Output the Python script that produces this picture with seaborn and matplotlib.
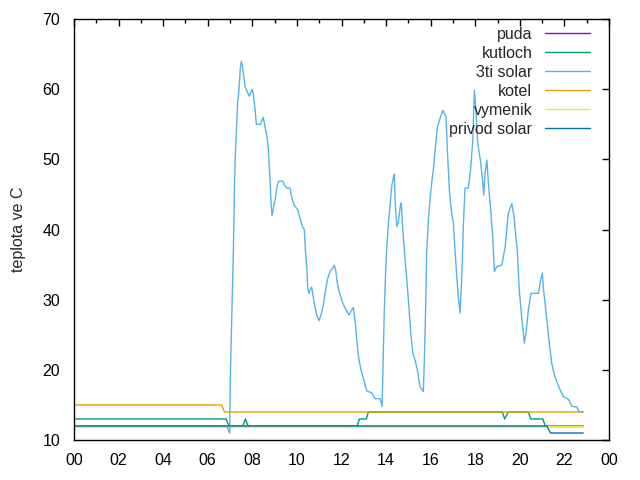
import numpy as np
import pandas as pd
import matplotlib
matplotlib.use("Agg")
import matplotlib.pyplot as plt
import seaborn as sns

# hodiny (0-24) a teploty
puda_t = [0.0, 22.84]
puda_v = [12, 12]

kutloch_t = [0.0, 6.82, 6.95, 7.57, 7.69, 7.81, 12.70, 12.80, 13.12, 13.20,
             19.21, 19.32, 19.48, 20.38, 20.49, 21.03, 21.14, 22.84]
kutloch_v = [13, 13, 12, 12, 13, 12, 12, 13, 13, 14,
             14, 13, 14, 14, 13, 13, 12, 12]

solar3_t = [0.0, 6.85, 6.98, 7.02, 7.15, 7.21, 7.25, 7.30, 7.34, 7.39, 7.43, 7.46,
            7.51, 7.55, 7.64, 7.68, 7.86, 7.99, 8.04, 8.09, 8.13, 8.18, 8.36, 8.49,
            8.57, 8.67, 8.72, 8.76, 8.81, 8.85, 8.88, 8.94, 9.03, 9.12, 9.18, 9.36,
            9.47, 9.54, 9.69, 9.78, 9.87, 10.04, 10.14, 10.24, 10.33, 10.39, 10.45,
            10.48, 10.53, 10.59, 10.66, 10.74, 10.81, 10.89, 10.99, 11.08, 11.18,
            11.29, 11.38, 11.48, 11.61, 11.68, 11.74, 11.81, 11.90, 12.01, 12.13,
            12.23, 12.34, 12.43, 12.53, 12.61, 12.68, 12.75, 12.86, 12.98, 13.13,
            13.36, 13.50, 13.73, 13.82, 13.88, 13.92, 13.98, 14.03, 14.10, 14.18,
            14.25, 14.32, 14.37, 14.41, 14.48, 14.55, 14.63, 14.68, 14.77, 14.88,
            15.00, 15.11, 15.20, 15.30, 15.40, 15.52, 15.67, 15.70, 15.75, 15.79,
            15.82, 15.90, 15.97, 16.05, 16.12, 16.20, 16.30, 16.42, 16.54, 16.69,
            16.75, 16.84, 16.94, 17.02, 17.09, 17.17, 17.24, 17.32, 17.39, 17.47,
            17.54, 17.69, 17.80, 17.89, 17.96, 18.03, 18.11, 18.25, 18.34, 18.38,
            18.44, 18.52, 18.59, 18.69, 18.78, 18.86, 18.96, 19.19, 19.34, 19.48,
            19.64, 19.74, 19.89, 19.98, 20.08, 20.20, 20.28, 20.38, 20.50, 20.83,
            20.92, 21.01, 21.05, 21.13, 21.22, 21.32, 21.43, 21.55, 21.66, 21.77,
            21.95, 22.18, 22.33, 22.55, 22.67, 22.84]
solar3_v = [12, 12, 11, 20, 37, 47.8, 51.6, 55.2, 58.0, 59.6, 61.3, 63.0,
            64.0, 63.4, 61.3, 60.3, 59.0, 60.0, 59.4, 58.0, 56.8, 55.0, 55.0, 56.0,
            54.6, 53.1, 51.3, 48.9, 46.0, 43.2, 42.0, 43.0, 44.4, 46.3, 46.9, 46.9,
            46.2, 45.9, 45.9, 44.4, 43.5, 42.8, 41.6, 40.4, 40.0, 36.6, 34.2,
            31.8, 30.9, 31.4, 31.8, 30.2, 29.0, 27.8, 27.0, 27.8, 29.2,
            31.4, 33.0, 34.0, 34.5, 34.9, 34.2, 32.4, 31.1, 29.9, 29.0,
            28.4, 27.8, 28.4, 28.9, 27.0, 24.5, 22.1, 20.2, 18.8, 17.0,
            16.7, 15.9, 15.9, 14.8, 23.0, 28.5, 34.0, 37.5, 40.6, 43.5,
            46.1, 47.3, 47.9, 44.0, 40.4, 41.1, 43.2, 43.8, 39.0, 34.7,
            30.0, 25.2, 22.3, 21.4, 20.0, 17.6, 16.9, 19.7, 25.4, 31.4,
            36.8, 41.4, 44.2, 46.8, 48.5, 51.3, 54.6, 55.8, 57.0, 56.1,
            51.3, 45.6, 42.3, 40.9, 37.1, 33.3, 30.4, 28.1, 32.8, 40.9,
            45.9, 45.9, 48.9, 52.8, 59.9, 57.0, 52.3, 49.4, 46.6, 44.9,
            48.0, 49.9, 46.6, 42.8, 39.0, 34.0, 34.7, 34.9, 37.5, 42.3,
            43.7, 41.8, 36.6, 31.1, 27.6, 23.8, 25.4, 28.5, 30.9, 30.9,
            32.6, 33.8, 31.8, 29.5, 26.9, 23.8, 20.9, 19.3, 18.3, 17.4,
            16.2, 15.8, 14.8, 14.7, 14.0, 14.0]

kotel_t = [0.0, 6.62, 6.75, 22.84]
kotel_v = [15, 15, 14, 14]

vymenik_t = [0.0, 22.84]
vymenik_v = [12, 12]

privod_t = [0.0, 21.20, 21.38, 22.84]
privod_v = [12, 12, 11, 11]

series = [
    ("puda", puda_t, puda_v, "#9400d3"),
    ("kutloch", kutloch_t, kutloch_v, "#009e73"),
    ("3ti solar", solar3_t, solar3_v, "#56b4e9"),
    ("kotel", kotel_t, kotel_v, "#e69f00"),
    ("vymenik", vymenik_t, vymenik_v, "#f0e442"),
    ("privod solar", privod_t, privod_v, "#0072b2"),
]

hour_ticks = list(range(0, 25, 2))
hour_labels = ["%02d" % (h % 24) for h in hour_ticks]

sns.set_theme(style="white")
plt.rcParams["font.family"] = ["Liberation Sans", "DejaVu Sans"]

fig, ax = plt.subplots(figsize=(6.4, 4.8), dpi=100)
fig.subplots_adjust(left=0.1156, right=0.9516, top=0.9604, bottom=0.0833)

for name, t, v, c in series:
    df = pd.DataFrame({"t": t, "v": v})
    sns.lineplot(data=df, x="t", y="v", ax=ax, color=c, linewidth=1.0,
                 label=name, estimator=None, sort=False)

ax.set_xlim(0, 24)
ax.set_ylim(10, 70)
ax.set_xticks(hour_ticks)
ax.set_xticklabels(hour_labels)
ax.set_xticks(range(1, 24, 2), minor=True)
ax.set_yticks(range(10, 71, 10))
ax.set_xlabel("")
ax.set_ylabel("teplota ve C", fontsize=11.5, labelpad=12)

ax.tick_params(which="both", direction="in", top=True, right=True,
               colors="black", labelsize=11.5)
ax.tick_params(axis="x", pad=9)
ax.tick_params(axis="y", pad=10)
ax.tick_params(which="major", length=5, width=1)
ax.tick_params(which="minor", length=3, width=1)
for s in ax.spines.values():
    s.set_color("black")
    s.set_linewidth(1.0)

ax.legend(loc="upper right", bbox_to_anchor=(0.985, 1.008), frameon=False,
          markerfirst=False, fontsize=11.5, handlelength=2.8,
          handletextpad=0.8, labelspacing=0.25, borderpad=0.2)

fig.savefig("out.png", dpi=100)
